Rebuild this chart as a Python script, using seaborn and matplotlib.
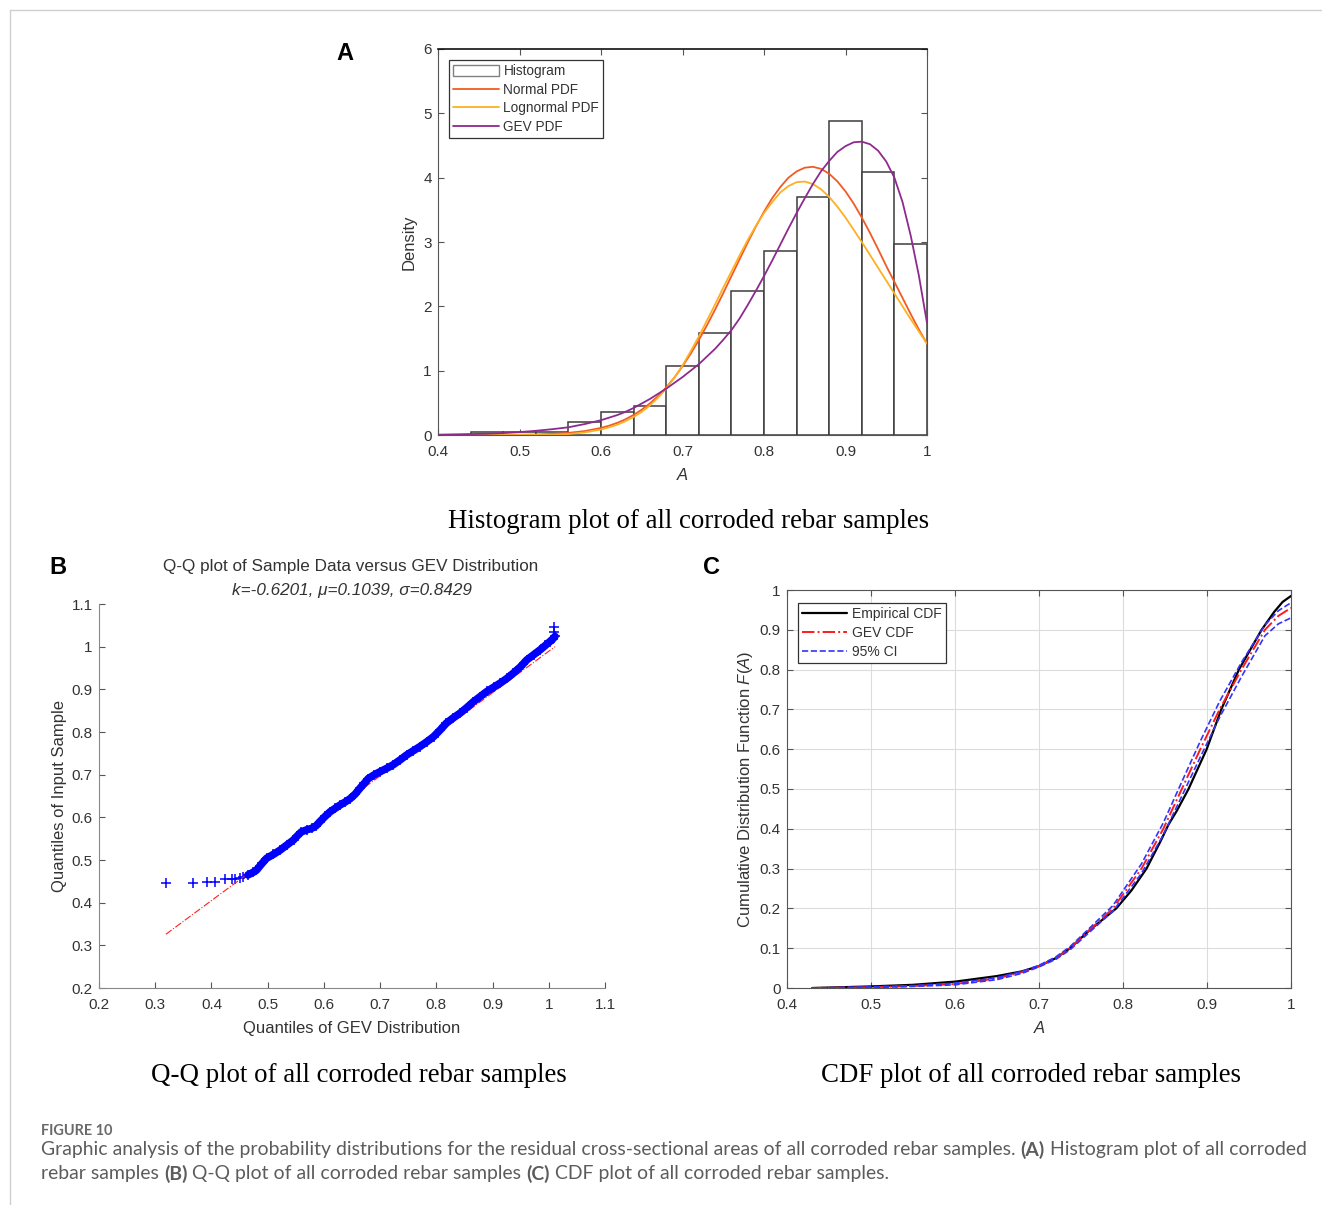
import numpy as np
import pandas as pd
import matplotlib
matplotlib.use("Agg")
import matplotlib.pyplot as plt
import seaborn as sns
from matplotlib.lines import Line2D
from matplotlib.patches import Patch

# ---------------- data ----------------
hist_edges = [0.44, 0.48, 0.52, 0.56, 0.60, 0.64, 0.68, 0.72, 0.76, 0.80, 0.84, 0.88, 0.92, 0.96, 1.00]
hist_density = [0.05, 0.05, 0.04, 0.20, 0.35, 0.45, 1.08, 1.58, 2.24, 2.86, 3.70, 4.88, 4.09, 2.97]

pdf_x = [0.40, 0.42, 0.44, 0.46, 0.48, 0.50, 0.52, 0.54, 0.56, 0.58, 0.60,
         0.61, 0.62, 0.63, 0.64, 0.65, 0.66, 0.67, 0.68, 0.69, 0.70,
         0.71, 0.72, 0.73, 0.74, 0.75, 0.76, 0.77, 0.78, 0.79, 0.80,
         0.81, 0.82, 0.83, 0.84, 0.85, 0.86, 0.87, 0.88, 0.89, 0.90,
         0.91, 0.92, 0.93, 0.94, 0.95, 0.96, 0.97, 0.98, 0.99, 1.00]
normal_pdf = [0.000, 0.000, 0.000, 0.001, 0.002, 0.004, 0.008, 0.017, 0.033, 0.061, 0.110,
              0.145, 0.189, 0.244, 0.312, 0.393, 0.491, 0.606, 0.739, 0.892, 1.068,
              1.262, 1.475, 1.705, 1.950, 2.205, 2.469, 2.730, 2.992, 3.240, 3.471,
              3.680, 3.854, 4.000, 4.097, 4.155, 4.169, 4.137, 4.061, 3.942, 3.787,
              3.598, 3.380, 3.142, 2.889, 2.627, 2.380, 2.130, 1.880, 1.640, 1.420]
lognormal_pdf = [0.000, 0.000, 0.000, 0.000, 0.000, 0.001, 0.002, 0.005, 0.015, 0.040, 0.085,
                 0.120, 0.160, 0.215, 0.280, 0.360, 0.460, 0.580, 0.720, 0.890, 1.080,
                 1.300, 1.530, 1.780, 2.030, 2.290, 2.540, 2.790, 3.030, 3.250, 3.450,
                 3.620, 3.770, 3.870, 3.930, 3.940, 3.900, 3.820, 3.700, 3.550, 3.380,
                 3.190, 3.000, 2.800, 2.600, 2.400, 2.200, 2.000, 1.800, 1.610, 1.420]
gev_pdf = [0.005, 0.010, 0.015, 0.020, 0.030, 0.045, 0.065, 0.090, 0.120, 0.170, 0.230,
           0.270, 0.310, 0.360, 0.420, 0.490, 0.560, 0.640, 0.720, 0.810, 0.900,
           1.000, 1.100, 1.220, 1.340, 1.480, 1.630, 1.810, 2.020, 2.240, 2.470,
           2.710, 2.960, 3.210, 3.450, 3.680, 3.900, 4.100, 4.260, 4.400, 4.490,
           4.550, 4.560, 4.520, 4.420, 4.250, 4.000, 3.620, 3.100, 2.480, 1.740]

qq_x = [0.319, 0.368, 0.392, 0.406, 0.424, 0.436, 0.442, 0.451, 0.457, 0.465,
        0.474, 0.480, 0.490, 0.498, 0.510, 0.522, 0.534, 0.546, 0.553, 0.560,
        0.570, 0.578, 0.586, 0.593, 0.602, 0.611, 0.620, 0.629, 0.638, 0.647,
        0.656, 0.664, 0.672, 0.679, 0.690, 0.700, 0.712, 0.723, 0.735, 0.747,
        0.759, 0.771, 0.783, 0.795, 0.807, 0.818, 0.830, 0.842, 0.854, 0.866,
        0.878, 0.890, 0.902, 0.914, 0.926, 0.937, 0.949, 0.961, 0.973, 0.985,
        0.994, 1.002, 1.007, 1.011, 1.009, 1.009]
qq_y = [0.446, 0.447, 0.448, 0.449, 0.455, 0.456, 0.456, 0.458, 0.461, 0.465,
        0.471, 0.476, 0.492, 0.504, 0.513, 0.523, 0.535, 0.547, 0.557, 0.566,
        0.571, 0.574, 0.580, 0.590, 0.602, 0.613, 0.621, 0.629, 0.636, 0.644,
        0.655, 0.668, 0.680, 0.691, 0.700, 0.707, 0.715, 0.723, 0.734, 0.746,
        0.756, 0.766, 0.777, 0.789, 0.805, 0.821, 0.833, 0.844, 0.857, 0.871,
        0.883, 0.895, 0.905, 0.915, 0.926, 0.938, 0.952, 0.969, 0.981, 0.993,
        1.003, 1.012, 1.018, 1.024, 1.035, 1.045]
qq_ref_x = [0.319, 1.011]
qq_ref_y = [0.326, 1.000]

emp_x = [0.43, 0.50, 0.55, 0.60, 0.65, 0.68, 0.70, 0.72, 0.737, 0.76, 0.792, 0.81, 0.828,
         0.845, 0.854, 0.864, 0.878, 0.8996, 0.917, 0.938, 0.965, 0.98, 0.99, 1.00]
emp_F = [0.000, 0.004, 0.008, 0.016, 0.030, 0.042, 0.055, 0.075, 0.100, 0.145, 0.200, 0.245, 0.300,
         0.370, 0.410, 0.445, 0.500, 0.600, 0.700, 0.800, 0.900, 0.945, 0.970, 0.985]
gev_x = [0.43, 0.50, 0.55, 0.60, 0.65, 0.68, 0.70, 0.72, 0.737, 0.76, 0.788, 0.822, 0.848,
         0.870, 0.892, 0.915, 0.941, 0.969, 0.985, 1.00]
gev_F = [0.000, 0.002, 0.005, 0.010, 0.024, 0.040, 0.055, 0.075, 0.100, 0.145, 0.200, 0.300, 0.400,
         0.500, 0.600, 0.700, 0.800, 0.900, 0.935, 0.955]
ci_hi = [0.000, 0.003, 0.006, 0.012, 0.026, 0.042, 0.057, 0.078, 0.104, 0.150, 0.207, 0.312, 0.415,
         0.518, 0.620, 0.720, 0.818, 0.912, 0.948, 0.968]
ci_lo = [0.000, 0.001, 0.004, 0.008, 0.021, 0.037, 0.053, 0.072, 0.096, 0.140, 0.193, 0.288, 0.385,
         0.482, 0.580, 0.680, 0.782, 0.885, 0.915, 0.930]

tick_lbl_A_x = ["0.4", "0.5", "0.6", "0.7", "0.8", "0.9", "1"]
tick_lbl_B = ["0.2", "0.3", "0.4", "0.5", "0.6", "0.7", "0.8", "0.9", "1", "1.1"]
tick_lbl_C_y = ["0", "0.1", "0.2", "0.3", "0.4", "0.5", "0.6", "0.7", "0.8", "0.9", "1"]

# ---------------- style ----------------
sns.set_theme(style="white")
plt.rcParams["font.family"] = ["Liberation Sans", "DejaVu Sans"]
plt.rcParams["mathtext.fontset"] = "custom"
plt.rcParams["mathtext.rm"] = "Liberation Sans"
plt.rcParams["mathtext.it"] = "Liberation Sans:italic"

C_NORM = "#F25A24"
C_LOGN = "#FDB022"
C_GEV = "#8E2A8E"
TXT = "#333333"
SPN = "#555555"
TICK_FS = 11
LAB_FS = 12

W, H = 1322, 1205
fig = plt.figure(figsize=(W / 100, H / 100), dpi=100)


def box(l, t, r, b):
    return [l / W, 1 - b / H, (r - l) / W, (b - t) / H]


def fx(x):
    return x / W


def fy(y):
    return 1 - y / H


def style_ax(ax, mirror=True):
    ax.tick_params(direction="in", length=4, width=0.8, colors=SPN, labelsize=TICK_FS,
                   labelcolor=TXT, top=mirror, right=mirror, bottom=True, left=True,
                   labeltop=False, labelright=False)
    ax.tick_params(axis="x", pad=7.5)
    ax.tick_params(axis="y", pad=4.5)
    for s in ax.spines.values():
        s.set_color(SPN)
        s.set_linewidth(0.8)


# frame lines
fig.add_artist(Line2D([fx(10), 1.0], [fy(10), fy(10)], color="#cfcfcf", lw=1))
fig.add_artist(Line2D([fx(10), fx(10)], [fy(10), 0.0], color="#cfcfcf", lw=1))

# ---------------- Panel A ----------------
axA = fig.add_axes(box(438, 49, 927, 435))
centers = [(a + b) / 2 for a, b in zip(hist_edges[:-1], hist_edges[1:])]
sns.histplot(x=centers, weights=hist_density, bins=hist_edges, stat="count",
             color="white", edgecolor="#3c3c3c", linewidth=1.1, alpha=1, ax=axA)
sns.lineplot(x=pdf_x, y=normal_pdf, color=C_NORM, lw=1.3, ax=axA)
sns.lineplot(x=pdf_x, y=lognormal_pdf, color=C_LOGN, lw=1.3, ax=axA)
sns.lineplot(x=pdf_x, y=gev_pdf, color=C_GEV, lw=1.3, ax=axA)
axA.set_xlim(0.4, 1.0)
axA.set_ylim(0, 6)
axA.set_xticks([0.4, 0.5, 0.6, 0.7, 0.8, 0.9, 1.0])
axA.set_xticklabels(tick_lbl_A_x)
axA.set_yticks([0, 1, 2, 3, 4, 5, 6])
axA.set_yticklabels([str(v) for v in range(7)])
style_ax(axA)
axA.spines["top"].set_color("#111111")
axA.spines["top"].set_linewidth(1.2)
axA.set_ylabel("Density", fontsize=LAB_FS, color=TXT, labelpad=5)
axA.set_xlabel("A", fontsize=LAB_FS, color=TXT, style="italic", labelpad=6)
hA = [Patch(facecolor="white", edgecolor="#808080", lw=1.0),
      Line2D([], [], color=C_NORM, lw=1.3),
      Line2D([], [], color=C_LOGN, lw=1.3),
      Line2D([], [], color=C_GEV, lw=1.3)]
legA = axA.legend(hA, ["Histogram", "Normal PDF", "Lognormal PDF", "GEV PDF"],
                  loc="upper left", bbox_to_anchor=(0.0225, 0.9715), borderaxespad=0,
                  fontsize=9.8, frameon=True, fancybox=False, framealpha=1,
                  edgecolor="#333333", handlelength=3.4, handleheight=0.9,
                  handletextpad=0.3, labelspacing=0.34, borderpad=0.3)
legA.get_frame().set_linewidth(0.9)
for t in legA.get_texts():
    t.set_color(TXT)

fig.text(fx(345), fy(53), "A", fontsize=17, fontweight="bold", color="black",
         ha="center", va="center")
fig.text(fx(689), fy(521), "Histogram plot of all corroded rebar samples",
         family="Liberation Serif", fontsize=19.4, color="black", ha="center", va="center")

# ---------------- Panel B ----------------
axB = fig.add_axes(box(99, 604, 605, 988))
sns.lineplot(x=qq_ref_x, y=qq_ref_y, color="#ff2020", lw=0.8, linestyle="-.", ax=axB)
sns.lineplot(x=qq_x[9:64], y=qq_y[9:64], color="#0000ff", lw=5.5, ax=axB)
sns.scatterplot(x=qq_x, y=qq_y, marker="+", s=55, color="#0000ff", linewidth=1.1, ax=axB)
axB.set_xlim(0.2, 1.1)
axB.set_ylim(0.2, 1.1)
ticksB = [0.2, 0.3, 0.4, 0.5, 0.6, 0.7, 0.8, 0.9, 1.0, 1.1]
axB.set_xticks(ticksB)
axB.set_xticklabels(tick_lbl_B)
axB.set_yticks(ticksB)
axB.set_yticklabels(tick_lbl_B)
style_ax(axB, mirror=False)
axB.spines["top"].set_visible(False)
axB.spines["right"].set_visible(False)
axB.spines["left"].set_color("#888888")
axB.spines["bottom"].set_color("#888888")
axB.set_xlabel("Quantiles of GEV Distribution", fontsize=LAB_FS, color=TXT, labelpad=6)
axB.set_ylabel("Quantiles of Input Sample", fontsize=LAB_FS, color=TXT, labelpad=3.5)
fig.text(fx(351), fy(567), "Q-Q plot of Sample Data versus GEV Distribution",
         fontsize=12.3, color=TXT, ha="center", va="center")
fig.text(fx(352), fy(591), "k=-0.6201, \u03bc=0.1039, \u03c3=0.8429",
         fontsize=12.3, color=TXT, style="italic", ha="center", va="center")
fig.text(fx(58), fy(567), "B", fontsize=17, fontweight="bold", color="black",
         ha="center", va="center")
fig.text(fx(359), fy(1076), "Q-Q plot of all corroded rebar samples",
         family="Liberation Serif", fontsize=19.4, color="black", ha="center", va="center")

# ---------------- Panel C ----------------
axC = fig.add_axes(box(787, 590, 1291, 988))
axC.grid(True, color="#dcdcdc", lw=0.8)
axC.set_axisbelow(True)
sns.lineplot(x=emp_x, y=emp_F, color="black", lw=1.6, ax=axC)
sns.lineplot(x=gev_x, y=gev_F, color="#ff1a1a", lw=1.4, linestyle="-.", ax=axC)
sns.lineplot(x=gev_x, y=ci_hi, color="#3333ff", lw=1.2, linestyle="--", ax=axC)
sns.lineplot(x=gev_x, y=ci_lo, color="#3333ff", lw=1.2, linestyle="--", ax=axC)
axC.set_xlim(0.4, 1.0)
axC.set_ylim(0, 1)
axC.set_xticks([0.4, 0.5, 0.6, 0.7, 0.8, 0.9, 1.0])
axC.set_xticklabels(tick_lbl_A_x)
axC.set_yticks([i / 10 for i in range(11)])
axC.set_yticklabels(tick_lbl_C_y)
style_ax(axC)
axC.set_xlabel("A", fontsize=LAB_FS, color=TXT, style="italic", labelpad=6)
axC.set_ylabel("Cumulative Distribution Function $F(A)$", fontsize=LAB_FS, color=TXT, labelpad=3.5)
hC = [Line2D([], [], color="black", lw=1.6),
      Line2D([], [], color="#ff1a1a", lw=1.4, linestyle="-."),
      Line2D([], [], color="#3333ff", lw=1.2, linestyle="--")]
legC = axC.legend(hC, ["Empirical CDF", "GEV CDF", "95% CI"], loc="upper left",
                  bbox_to_anchor=(0.0218, 0.967), borderaxespad=0, fontsize=10,
                  frameon=True, fancybox=False, framealpha=1, edgecolor="#333333",
                  handlelength=3.2, handletextpad=0.4, labelspacing=0.34, borderpad=0.3)
legC.get_frame().set_linewidth(0.9)
for t in legC.get_texts():
    t.set_color(TXT)
fig.text(fx(711), fy(567), "C", fontsize=17, fontweight="bold", color="black",
         ha="center", va="center")
fig.text(fx(1031), fy(1076), "CDF plot of all corroded rebar samples",
         family="Liberation Serif", fontsize=19.4, color="black", ha="center", va="center")

# ---------------- Caption ----------------
CAP_FAM = ["Lato", "DejaVu Sans"]
CAP_COL = "#5c5c5c"
renderer = fig.canvas.get_renderer()

fig_lbl = fig.text(fx(41), fy(1131), "FIGURE 10", family=CAP_FAM, fontsize=10,
                   fontweight="bold", color="#6a6a6a", ha="left", va="center")
wl = fig_lbl.get_window_extent(renderer).width
fig_lbl.set_fontsize(10 * 72 / wl)


def draw_runs(x_px, y_px, runs, fs):
    x = x_px
    arts = []
    for s, bold in runs:
        t = fig.text(fx(x), fy(y_px), s, family=CAP_FAM, fontsize=fs,
                     fontweight="bold" if bold else "normal", color=CAP_COL,
                     ha="left", va="center")
        arts.append(t)
        x += t.get_window_extent(renderer).width
    return arts, x - x_px


line1 = [("Graphic analysis of the probability distributions for the residual cross-sectional areas of all corroded rebar samples. ", False),
         ("(A)", True), (" Histogram plot of all corroded", False)]
line2 = [("rebar samples ", False), ("(B)", True),
         (" Q-Q plot of all corroded rebar samples ", False), ("(C)", True),
         (" CDF plot of all corroded rebar samples.", False)]
arts, wid = draw_runs(41, 1150, line1, 12)
for a in arts:
    a.remove()
cap_fs = 12 * 1257 / wid
draw_runs(41, 1150, line1, cap_fs)
draw_runs(41, 1174, line2, cap_fs)

fig.savefig("out.png", dpi=100)
